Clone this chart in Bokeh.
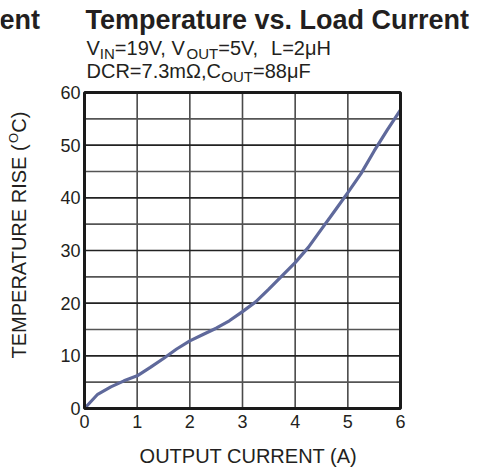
from bokeh.plotting import figure
from bokeh.models import Label, Range1d
from bokeh.core.properties import value
from bokeh.embed import file_html
from bokeh.resources import INLINE
import math

# ---- data ----
current_a = [0, 0.25, 0.5, 0.75, 1.0, 1.25, 1.5, 1.75, 2.0, 2.25, 2.5, 2.75, 3.0,
             3.25, 3.5, 3.75, 4.0, 4.25, 4.5, 4.75, 5.0, 5.25, 5.5, 5.75, 6.0]
temp_rise_c = [0, 2.7, 4.1, 5.25, 6.2, 7.8, 9.5, 11.3, 12.85, 14.05, 15.25, 16.65, 18.4,
               20.25, 22.65, 25.2, 27.7, 30.6, 34.05, 37.5, 41.0, 44.6, 48.9, 52.9, 56.7]
x_ticks = [0, 1, 2, 3, 4, 5, 6]
y_ticks = [0, 10, 20, 30, 40, 50, 60]
y_minor_grid = [5, 15, 25, 35, 45, 55]
x_tick_labels = [str(t) for t in x_ticks]
y_tick_labels = [str(t) for t in y_ticks]

FONT = "Liberation Sans"
TXT = "#231f20"

W, H = 476, 467
AL, AT, AR, AB = 84, 92, 400, 408
XMIN, XMAX = x_ticks[0], x_ticks[-1]
YMIN, YMAX = y_ticks[0], y_ticks[-1]
PX = (AR - AL) / (XMAX - XMIN)
PY = (AB - AT) / (YMAX - YMIN)

p = figure(width=W, height=H, output_backend="svg", toolbar_location=None,
           x_range=Range1d(XMIN - AL / PX, XMAX + (W - AR) / PX),
           y_range=Range1d(YMIN - (H - AB) / PY, YMAX + AT / PY),
           min_border=0)
p.axis.visible = False
p.grid.visible = False
p.outline_line_color = None
p.background_fill_color = "white"
p.border_fill_color = "white"

# grid lines
xg = x_ticks[1:-1]
p.segment(x0=xg, y0=[YMIN] * len(xg), x1=xg, y1=[YMAX] * len(xg),
          line_color="#4a4a4a", line_width=1.6)
p.segment(x0=[XMIN] * len(y_minor_grid), y0=y_minor_grid,
          x1=[XMAX] * len(y_minor_grid), y1=y_minor_grid,
          line_color="#555555", line_width=1.6)
yg = y_ticks[1:-1]
p.segment(x0=[XMIN] * len(yg), y0=yg, x1=[XMAX] * len(yg), y1=yg,
          line_color="#222222", line_width=1.6)

# data curve
p.line(current_a, temp_rise_c, line_width=3.2, line_color="#5f699b", line_join="round")

# frame border
p.quad(left=[XMIN], right=[XMAX], bottom=[YMIN], top=[YMAX], fill_color=None,
       line_color="#1a1a1a", line_width=3)

# tick labels
p.text(x=x_ticks, y=[YMIN] * len(x_ticks), text=x_tick_labels,
       text_font=value(FONT), text_font_size=value("18px"), text_color=TXT,
       text_align="center", text_baseline="top", y_offset=6)
p.text(x=[XMIN] * len(y_ticks), y=y_ticks, text=y_tick_labels,
       text_font=value(FONT), text_font_size=value("18px"), text_color=TXT,
       text_align="right", text_baseline="middle", x_offset=-4)

# ---- text helpers (canvas px -> data coords) ----
def dx(px):
    return XMIN + (px - AL) / PX
def dy(py):
    return YMIN + (AB - py) / PY

AW = {' ': 278, '(': 333, ')': 333, ',': 278, '.': 278, '=': 584, 'A': 667, 'C': 722,
      'D': 722, 'E': 667, 'F': 611, 'H': 722, 'I': 278, 'L': 556, 'M': 833, 'N': 722,
      'O': 778, 'P': 667, 'R': 722, 'S': 667, 'T': 611, 'U': 722, 'V': 667, 'm': 833,
      'μ': 576, 'Ω': 768}
def tw(s, size):
    return sum(AW.get(c, 556) for c in s) * size / 1000.0

MID = 0.347  # baseline -> middle-of-line offset (em)

def lab(text, px, py, size, bold=False, align="left"):
    """py = desired baseline (canvas px)."""
    p.add_layout(Label(x=dx(px), y=dy(py - MID * size), text=text, text_font=FONT,
                       text_font_size=f"{size}px",
                       text_font_style="bold" if bold else "normal",
                       text_color=TXT, text_align=align, text_baseline="middle"))

def vlab(text, px, py, size):
    """rotated text reading upward; px = baseline x, py = start (bottom)."""
    p.add_layout(Label(x=dx(px - MID * size), y=dy(py), text=text, text_font=FONT,
                       text_font_size=f"{size}px", text_color=TXT,
                       text_align="left", text_baseline="middle", angle=math.pi / 2))

# titles
lab("Temperature vs. Load Current", 85, 29, 27, bold=True)
lab("ent", 39.5, 29, 27, bold=True, align="right")

# subtitle lines with subscripts
MS, SS = 20, 15
def line_with_subs(pieces, px, py):
    x = px
    for txt, kind in pieces:
        if kind == "gap":
            x += tw(txt, MS)
        elif kind == "sub":
            lab(txt, x, py + 4, SS)
            x += tw(txt, SS)
        else:
            lab(txt, x, py, MS)
            x += tw(txt, MS)

line_with_subs([("V", "n"), ("IN", "sub"), ("=19V, V", "n"), ("OUT", "sub"),
                ("=5V,", "n"), ("  ", "gap"), ("L=2μH", "n")], 86, 54)
line_with_subs([("DCR=7.3mΩ,C", "n"), ("OUT", "sub"), ("=88μF", "n")], 86, 77)

# x axis label
lab("OUTPUT CURRENT (A)", 248, 462, 20, align="center")

# y axis label (rotated) with superscript O
ys = 358
part1 = "TEMPERATURE RISE ("
vlab(part1, 25, ys, 20)
ys -= tw(part1, 20)
vlab("O", 18, ys, 13)
ys -= tw("O", 13)
vlab("C)", 25, ys, 20)

open("out.html", "w").write(file_html(p, INLINE))
